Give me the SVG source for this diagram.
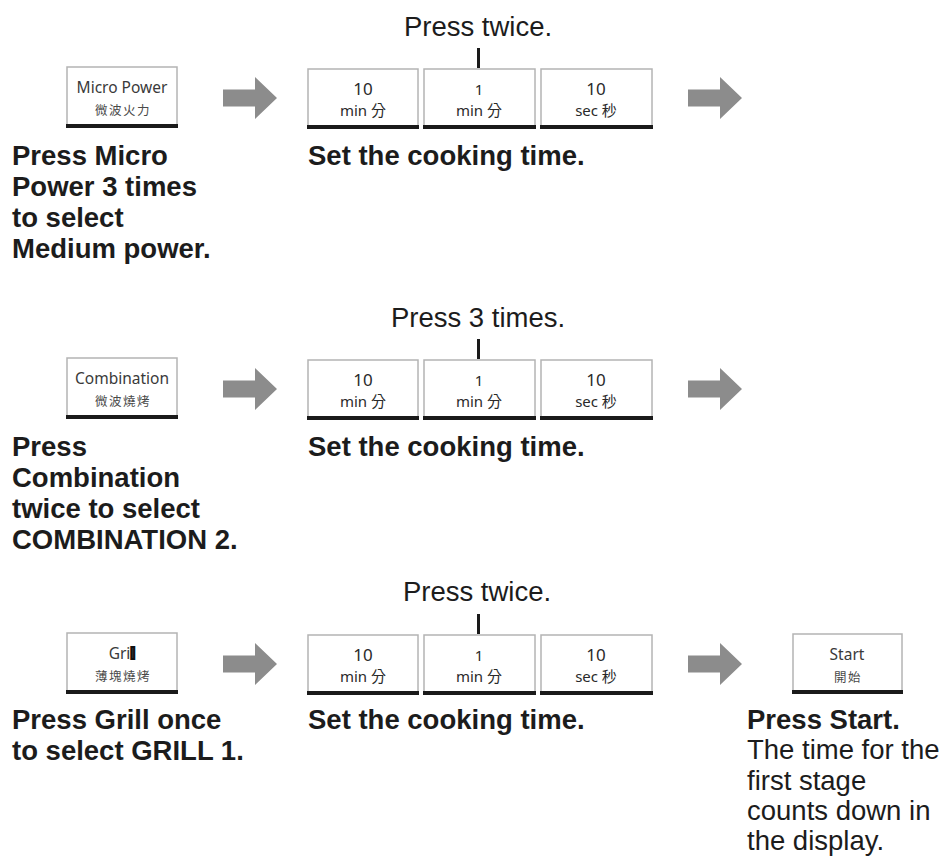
<svg xmlns="http://www.w3.org/2000/svg" width="946" height="857" viewBox="0 0 946 857">
<style>
.bg{fill:#ffffff}
.box{fill:#ffffff;stroke:#b4b4b4;stroke-width:1.5}
.bar{fill:#1a1a1a}
.btn{font-family:"Noto Sans","Open Sans",sans-serif;font-size:15.5px;fill:#3a3a3a;text-anchor:middle}
.cjk{font-family:"Noto Sans CJK TC","Noto Sans CJK SC",sans-serif;font-size:12.5px;fill:#4a4a4a;text-anchor:middle;letter-spacing:1.5px}
.num{font-family:"Noto Sans","Open Sans",sans-serif;font-size:17px;fill:#2a2a2a;text-anchor:middle}
.unit{font-family:"Noto Sans","Noto Sans CJK TC",sans-serif;font-size:15px;fill:#2a2a2a;text-anchor:middle}
.lbl{font-family:"Liberation Sans",Arial,sans-serif;font-size:27.5px;font-weight:bold;fill:#1c1c1c}
.reg{font-family:"Liberation Sans",Arial,sans-serif;font-size:27.5px;fill:#1c1c1c}
.cap{font-family:"Liberation Sans",Arial,sans-serif;font-size:27.5px;fill:#1c1c1c;text-anchor:middle}
.arrow{fill:#8c8c8c}
.tick{fill:#1a1a1a}
</style>
<defs>
<path id="arr" d="M0 -8.5 H32 V-21 L54 0 L32 21 V8.5 H0 Z"/>
<g id="timeBoxes">
<rect class="box" x="308" y="69" width="110" height="58"/>
<rect class="bar" x="307" y="125" width="112" height="4"/>
<text class="num" x="363" y="95">10</text>
<text class="unit" x="363" y="116">min 分</text>
<rect class="box" x="424" y="69" width="111" height="58"/>
<rect class="bar" x="423" y="125" width="113" height="4"/>
<text class="num" x="479" y="95" style="font-size:15px">1</text>
<text class="unit" x="479" y="116">min 分</text>
<rect class="box" x="541" y="69" width="111" height="58"/>
<rect class="bar" x="540" y="125" width="113" height="4"/>
<text class="num" x="596" y="95">10</text>
<text class="unit" x="596" y="116">sec 秒</text>
<rect class="tick" x="477" y="48" width="3" height="20"/>
</g>
</defs>
<rect class="bg" x="0" y="0" width="946" height="857"/>

<!-- Row 1 -->
<g id="micro-power">
<rect class="box" x="67" y="67" width="110" height="58"/>
<rect class="bar" x="66" y="124" width="112" height="4"/>
<text class="btn" x="122" y="93">Micro Power</text>
<text class="cjk" x="123" y="115">微波火力</text>
</g>
<g id="time-row1">
<text class="cap" x="478" y="36">Press twice.</text>
<use href="#timeBoxes"/>
</g>
<g id="label-row1">
<text class="lbl" x="12" y="165">Press Micro</text>
<text class="lbl" x="12" y="196">Power 3 times</text>
<text class="lbl" x="12" y="227">to select</text>
<text class="lbl" x="12" y="258">Medium power.</text>
<text class="lbl" x="308" y="165">Set the cooking time.</text>
</g>

<!-- Row 2 -->
<g id="combination">
<rect class="box" x="67" y="358" width="110" height="58"/>
<rect class="bar" x="66" y="415" width="112" height="4"/>
<text class="btn" x="122" y="384">Combination</text>
<text class="cjk" x="123" y="406">微波燒烤</text>
</g>
<g id="time-row2">
<text class="cap" x="478" y="327">Press 3 times.</text>
<use href="#timeBoxes" transform="translate(0,291)"/>
</g>
<g id="label-row2">
<text class="lbl" x="12" y="456">Press</text>
<text class="lbl" x="12" y="487">Combination</text>
<text class="lbl" x="12" y="518">twice to select</text>
<text class="lbl" x="12" y="549">COMBINATION 2.</text>
<text class="lbl" x="308" y="456">Set the cooking time.</text>
</g>

<!-- Row 3 -->
<g id="grill">
<rect class="box" x="67" y="633" width="110" height="58"/>
<rect class="bar" x="66" y="690" width="112" height="4"/>
<text class="btn" x="122" y="659">Gri<tspan style="font-weight:900;stroke:#111;stroke-width:2">l</tspan></text>
<text class="cjk" x="123" y="681">薄塊燒烤</text>
</g>
<g id="time-row3">
<text class="cap" x="477" y="601">Press twice.</text>
<use href="#timeBoxes" transform="translate(0,566)"/>
</g>
<g id="start">
<rect class="box" x="793" y="634" width="109" height="57"/>
<rect class="bar" x="792" y="690" width="111" height="4"/>
<text class="btn" x="847" y="660">Start</text>
<text class="cjk" x="848" y="682">開始</text>
</g>
<g id="label-row3">
<text class="lbl" x="12" y="729">Press Grill once</text>
<text class="lbl" x="12" y="760">to select GRILL 1.</text>
<text class="lbl" x="308" y="729">Set the cooking time.</text>
<text class="lbl" x="747" y="729">Press Start.</text>
<text class="reg" x="747" y="759">The time for the</text>
<text class="reg" x="747" y="790">first stage</text>
<text class="reg" x="747" y="820">counts down in</text>
<text class="reg" x="747" y="850">the display.</text>
</g>

<g id="connectors" class="arrow">
<use href="#arr" transform="translate(223,98)"/>
<use href="#arr" transform="translate(688,98)"/>
<use href="#arr" transform="translate(223,389)"/>
<use href="#arr" transform="translate(688,389)"/>
<use href="#arr" transform="translate(223,664)"/>
<use href="#arr" transform="translate(688,664)"/>
</g>
</svg>
